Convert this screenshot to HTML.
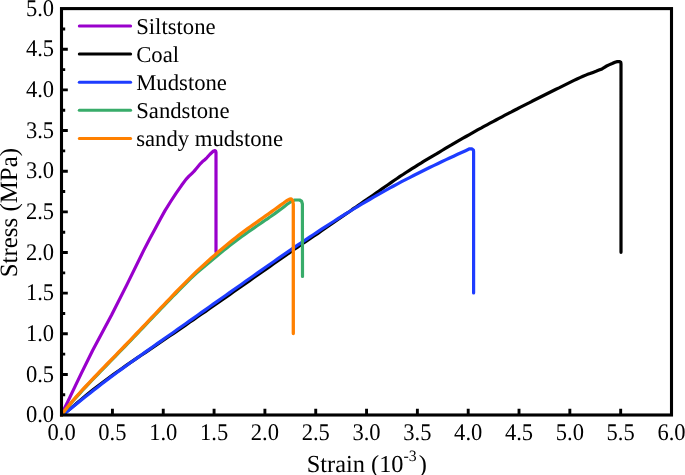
<!DOCTYPE html>
<html><head><meta charset="utf-8"><style>
html,body{margin:0;padding:0;background:#fff;width:685px;height:475px;overflow:hidden}
svg{display:block;will-change:transform;font-family:"Liberation Serif",serif;fill:#000}
text{text-rendering:geometricPrecision}
</style></head><body>
<svg width="685" height="475" viewBox="0 0 685 475">
<path d="M61.5 374.45H67.8 M61.5 333.80H67.8 M61.5 293.15H67.8 M61.5 252.50H67.8 M61.5 211.85H67.8 M61.5 171.20H67.8 M61.5 130.55H67.8 M61.5 89.90H67.8 M61.5 49.25H67.8 M61.5 394.78H65.2 M61.5 354.12H65.2 M61.5 313.48H65.2 M61.5 272.83H65.2 M61.5 232.18H65.2 M61.5 191.53H65.2 M61.5 150.88H65.2 M61.5 110.23H65.2 M61.5 69.58H65.2 M61.5 28.93H65.2 M112.43 415H112.43V408.8 M163.25 415H163.25V408.8 M214.08 415H214.08V408.8 M264.90 415H264.90V408.8 M315.73 415H315.73V408.8 M366.55 415H366.55V408.8 M417.38 415H417.38V408.8 M468.20 415H468.20V408.8 M519.02 415H519.02V408.8 M569.85 415H569.85V408.8 M620.68 415H620.68V408.8" stroke="#000" stroke-width="2.9" fill="none"/>
<path d="M61.6 415.1 L65.6 412.6 L69.6 409.3 L73.6 405.9 L77.6 402.5 L81.6 399.1 L85.6 395.8 L89.6 392.5 L93.6 389.3 L97.6 386.3 L101.6 383.2 L105.6 380.2 L109.6 377.3 L113.6 374.4 L117.6 371.5 L121.6 368.7 L125.6 365.9 L129.6 363.2 L133.6 360.4 L137.6 357.7 L141.6 355.0 L145.6 352.3 L149.6 349.6 L153.6 346.9 L157.6 344.1 L161.6 341.4 L165.6 338.7 L169.6 336.0 L173.6 333.3 L177.6 330.6 L181.6 327.9 L185.6 325.1 L189.6 322.3 L193.6 319.6 L197.6 316.8 L201.6 314.0 L205.6 311.3 L209.6 308.5 L213.6 305.7 L217.6 302.9 L221.6 300.2 L225.6 297.4 L229.6 294.6 L233.6 291.8 L237.6 289.0 L241.6 286.2 L245.6 283.4 L249.6 280.6 L253.6 277.7 L257.6 274.9 L261.6 272.2 L265.6 269.4 L269.6 266.6 L273.6 263.8 L277.6 261.0 L281.6 258.2 L285.6 255.4 L289.6 252.6 L293.6 249.8 L297.6 247.1 L301.6 244.3 L305.6 241.6 L309.6 238.9 L313.6 236.2 L317.6 233.6 L321.6 230.8 L325.6 228.0 L329.6 225.2 L333.6 222.4 L337.6 219.7 L341.6 216.9 L345.6 214.2 L349.6 211.5 L352.0 209.7 L355.0 207.7 L358.0 205.6 L361.0 203.5 L364.0 201.4 L367.0 199.4 L370.0 197.3 L373.0 195.2 L376.0 193.1 L379.0 191.0 L382.0 188.9 L385.0 186.8 L388.0 184.7 L391.0 182.6 L394.0 180.5 L397.0 178.5 L400.0 176.4 L403.0 174.5 L406.0 172.5 L409.0 170.6 L412.0 168.7 L415.0 166.8 L418.0 164.9 L421.0 163.1 L424.0 161.2 L427.0 159.4 L430.0 157.6 L433.0 155.8 L436.0 154.1 L439.0 152.3 L442.0 150.5 L445.0 148.7 L448.0 146.9 L451.0 145.2 L454.0 143.4 L457.0 141.6 L460.0 139.9 L463.0 138.2 L466.0 136.5 L469.0 134.8 L472.0 133.1 L475.0 131.4 L478.0 129.7 L481.0 128.1 L484.0 126.4 L487.0 124.8 L490.0 123.2 L493.0 121.6 L496.0 120.0 L499.0 118.4 L502.0 116.8 L505.0 115.2 L508.0 113.6 L511.0 112.1 L514.0 110.5 L517.0 109.0 L520.0 107.4 L523.0 105.9 L526.0 104.4 L529.0 102.9 L532.0 101.3 L535.0 99.8 L538.0 98.3 L541.0 96.8 L544.0 95.3 L547.0 93.8 L550.0 92.3 L553.0 90.8 L556.0 89.3 L559.0 87.9 L562.0 86.4 L565.0 84.9 L568.0 83.4 L571.0 81.9 L574.0 80.4 L577.0 79.0 L580.0 77.6 L583.0 76.3 L587.0 74.6 L590.0 73.6 L593.0 72.4 L596.0 71.3 L599.0 70.1 L602.0 68.9 L604.0 67.7 L606.1 66.3 L609.0 64.9 L612.2 63.5 L615.0 62.2 L617.3 61.6 L619.6 61.5 L620.8 62.4 L621.0 64.0 L621.0 252.3" stroke="#000000" stroke-width="3.2" fill="none" stroke-linejoin="round" stroke-linecap="round"/>
<path d="M61.6 415.1 L65.6 412.7 L69.6 409.6 L73.6 406.3 L77.6 403.0 L81.6 399.8 L85.6 396.6 L89.6 393.5 L93.6 390.3 L97.6 387.2 L101.6 384.1 L105.6 381.0 L109.6 377.9 L113.6 375.0 L117.6 372.0 L121.6 369.1 L125.6 366.2 L129.6 363.3 L133.6 360.5 L137.6 357.6 L141.6 354.8 L145.6 351.9 L149.6 349.1 L153.6 346.3 L157.6 343.4 L161.6 340.6 L165.6 337.8 L169.6 335.0 L173.6 332.2 L177.6 329.3 L181.6 326.5 L185.6 323.7 L189.6 320.9 L193.6 318.1 L197.6 315.3 L201.6 312.4 L205.6 309.6 L209.6 306.8 L213.6 303.9 L217.6 301.1 L221.6 298.3 L225.6 295.5 L229.6 292.6 L233.6 289.8 L237.6 287.0 L241.6 284.2 L245.6 281.3 L249.6 278.5 L253.6 275.7 L257.6 272.9 L261.6 270.1 L265.6 267.3 L269.6 264.5 L273.6 261.7 L277.6 258.9 L281.6 256.1 L285.6 253.4 L289.6 250.6 L293.6 247.9 L297.6 245.2 L301.6 242.5 L305.6 239.8 L309.6 237.1 L313.6 234.5 L317.6 231.8 L321.6 229.2 L325.6 226.6 L329.6 224.0 L333.6 221.5 L337.6 218.9 L341.6 216.4 L345.6 213.9 L349.6 211.5 L353.6 209.0 L357.6 206.6 L361.6 204.2 L365.6 201.8 L369.6 199.5 L373.6 197.2 L377.6 194.9 L381.6 192.6 L385.6 190.4 L389.6 188.2 L393.6 186.0 L397.6 183.9 L401.6 181.7 L405.6 179.6 L409.6 177.6 L413.6 175.5 L417.6 173.5 L421.6 171.5 L425.6 169.5 L429.6 167.5 L433.6 165.6 L437.6 163.7 L441.6 161.8 L445.6 159.9 L449.6 158.0 L453.6 156.2 L457.6 154.3 L461.6 152.5 L465.6 150.7 L469.6 148.8 L471.8 148.9 L473.4 150.0 L473.6 151.5 L473.6 293.0" stroke="#1E3CFF" stroke-width="3.2" fill="none" stroke-linejoin="round" stroke-linecap="round"/>
<path d="M61.6 415.1 L63.8 409.6 L67.5 402.2 L72.2 392.4 L81.3 373.4 L92.6 350.5 L111.7 314.8 L126.8 284.9 L143.7 250.4 L150.0 238.2 L155.7 227.8 L160.5 218.7 L165.0 210.6 L171.0 201.0 L176.0 193.3 L181.6 185.3 L186.0 179.4 L189.0 176.2 L192.0 173.3 L194.2 171.1 L196.6 168.3 L200.5 163.6 L202.5 161.6 L204.5 160.0 L206.8 157.8 L210.0 154.2 L213.2 151.3 L214.6 150.6 L215.6 151.0 L216.0 152.5 L216.0 251.8" stroke="#9900CC" stroke-width="3.2" fill="none" stroke-linejoin="round" stroke-linecap="round"/>
<path d="M61.8 415.1 L64.8 410.7 L67.8 407.0 L70.8 403.5 L73.8 400.0 L76.8 396.6 L79.8 393.3 L82.8 390.0 L85.8 386.8 L88.8 383.6 L91.8 380.5 L94.8 377.4 L97.8 374.3 L100.8 371.2 L103.8 368.1 L106.8 365.1 L109.8 362.0 L112.8 358.9 L115.8 355.8 L118.8 352.7 L121.8 349.7 L124.8 346.6 L127.8 343.5 L130.8 340.3 L133.8 337.2 L136.8 334.1 L139.8 331.0 L142.8 327.8 L145.8 324.7 L148.8 321.5 L151.8 318.4 L154.8 315.2 L157.8 312.1 L160.8 309.0 L163.8 305.9 L166.8 302.7 L169.8 299.6 L172.8 296.5 L175.8 293.5 L178.8 290.4 L181.8 287.4 L184.8 284.3 L187.8 281.3 L190.8 278.4 L193.8 275.6 L196.8 272.9 L199.8 270.3 L202.8 267.7 L205.8 265.2 L208.8 262.7 L211.8 260.2 L214.8 257.7 L217.8 255.2 L220.8 252.7 L223.8 250.3 L226.8 247.9 L229.8 245.5 L232.8 243.2 L235.8 240.9 L238.8 238.7 L241.8 236.5 L244.8 234.4 L247.8 232.2 L250.8 230.2 L253.8 228.1 L256.8 226.0 L259.8 224.0 L262.8 221.9 L265.8 219.8 L268.8 217.8 L271.8 215.7 L274.8 213.6 L277.8 211.4 L280.8 209.2 L283.8 206.9 L286.8 204.5 L292.0 201.0 L294.8 200.0 L299.5 200.0 L301.6 201.2 L302.4 204.0 L302.5 276.5" stroke="#38AC6A" stroke-width="3.2" fill="none" stroke-linejoin="round" stroke-linecap="round"/>
<path d="M61.6 415.1 L64.6 410.7 L67.6 407.0 L70.6 403.4 L73.6 399.8 L76.6 396.4 L79.6 393.0 L82.6 389.7 L85.6 386.5 L88.6 383.3 L91.6 380.1 L94.6 377.0 L97.6 373.8 L100.6 370.7 L103.6 367.6 L106.6 364.5 L109.6 361.5 L112.6 358.4 L115.6 355.3 L118.6 352.2 L121.6 349.1 L124.6 346.0 L127.6 342.9 L130.6 339.8 L133.6 336.7 L136.6 333.5 L139.6 330.4 L142.6 327.2 L145.6 324.1 L148.6 320.9 L151.6 317.7 L154.6 314.6 L157.6 311.4 L160.6 308.2 L163.6 305.1 L166.6 301.9 L169.6 298.8 L172.6 295.7 L175.6 292.5 L178.6 289.4 L181.6 286.4 L184.6 283.3 L187.6 280.3 L190.6 277.3 L193.6 274.3 L196.6 271.4 L199.6 268.6 L202.6 265.9 L205.6 263.2 L208.6 260.5 L211.6 257.8 L214.6 255.3 L217.6 252.6 L220.6 250.0 L223.6 247.5 L226.6 245.0 L229.6 242.5 L232.6 240.1 L235.6 237.7 L238.6 235.4 L241.6 233.1 L244.6 230.9 L247.6 228.7 L250.6 226.5 L253.6 224.4 L256.6 222.3 L259.6 220.2 L262.6 218.0 L265.6 215.9 L268.6 213.8 L271.6 211.6 L274.6 209.5 L277.6 207.3 L280.6 205.1 L283.6 203.0 L286.6 200.7 L289.5 199.2 L291.2 198.9 L292.6 200.5 L293.3 204.0 L293.3 333.5" stroke="#FF8000" stroke-width="3.3" fill="none" stroke-linejoin="round" stroke-linecap="round"/>
<rect x="61.5" y="8.6" width="610" height="406.4" fill="none" stroke="#000" stroke-width="3.1"/>
<text transform="translate(54.1 422.20) scale(0.98 1.04)" text-anchor="end" font-size="23">0.0</text>
<text transform="translate(54.1 381.55) scale(0.98 1.04)" text-anchor="end" font-size="23">0.5</text>
<text transform="translate(54.1 340.90) scale(0.98 1.04)" text-anchor="end" font-size="23">1.0</text>
<text transform="translate(54.1 300.25) scale(0.98 1.04)" text-anchor="end" font-size="23">1.5</text>
<text transform="translate(54.1 259.60) scale(0.98 1.04)" text-anchor="end" font-size="23">2.0</text>
<text transform="translate(54.1 218.95) scale(0.98 1.04)" text-anchor="end" font-size="23">2.5</text>
<text transform="translate(54.1 178.30) scale(0.98 1.04)" text-anchor="end" font-size="23">3.0</text>
<text transform="translate(54.1 137.65) scale(0.98 1.04)" text-anchor="end" font-size="23">3.5</text>
<text transform="translate(54.1 97.00) scale(0.98 1.04)" text-anchor="end" font-size="23">4.0</text>
<text transform="translate(54.1 56.35) scale(0.98 1.04)" text-anchor="end" font-size="23">4.5</text>
<text transform="translate(54.1 15.70) scale(0.98 1.04)" text-anchor="end" font-size="23">5.0</text>
<text transform="translate(61.60 439.8) scale(0.98 1.04)" text-anchor="middle" font-size="23">0.0</text>
<text transform="translate(112.43 439.8) scale(0.98 1.04)" text-anchor="middle" font-size="23">0.5</text>
<text transform="translate(163.25 439.8) scale(0.98 1.04)" text-anchor="middle" font-size="23">1.0</text>
<text transform="translate(214.08 439.8) scale(0.98 1.04)" text-anchor="middle" font-size="23">1.5</text>
<text transform="translate(264.90 439.8) scale(0.98 1.04)" text-anchor="middle" font-size="23">2.0</text>
<text transform="translate(315.73 439.8) scale(0.98 1.04)" text-anchor="middle" font-size="23">2.5</text>
<text transform="translate(366.55 439.8) scale(0.98 1.04)" text-anchor="middle" font-size="23">3.0</text>
<text transform="translate(417.38 439.8) scale(0.98 1.04)" text-anchor="middle" font-size="23">3.5</text>
<text transform="translate(468.20 439.8) scale(0.98 1.04)" text-anchor="middle" font-size="23">4.0</text>
<text transform="translate(519.02 439.8) scale(0.98 1.04)" text-anchor="middle" font-size="23">4.5</text>
<text transform="translate(569.85 439.8) scale(0.98 1.04)" text-anchor="middle" font-size="23">5.0</text>
<text transform="translate(620.68 439.8) scale(0.98 1.04)" text-anchor="middle" font-size="23">5.5</text>
<text transform="translate(671.50 439.8) scale(0.98 1.04)" text-anchor="middle" font-size="23">6.0</text>
<path d="M79.3 26.00H130.6" stroke="#9900CC" stroke-width="3" stroke-linecap="round"/>
<text x="136.2" y="33.70" font-size="22.7">Siltstone</text>
<path d="M79.3 54.10H130.6" stroke="#000" stroke-width="3" stroke-linecap="round"/>
<text x="136.2" y="61.80" font-size="22.7">Coal</text>
<path d="M79.3 82.20H130.6" stroke="#1E3CFF" stroke-width="3" stroke-linecap="round"/>
<text x="136.2" y="89.90" font-size="22.7">Mudstone</text>
<path d="M79.3 110.30H130.6" stroke="#38AC6A" stroke-width="3" stroke-linecap="round"/>
<text x="136.2" y="118.00" font-size="22.7">Sandstone</text>
<path d="M79.3 138.40H130.6" stroke="#FF8000" stroke-width="3" stroke-linecap="round"/>
<text x="136.2" y="146.10" font-size="22.7">sandy mudstone</text>
<text x="306.7" y="471.5" font-size="24.4">Strain (10<tspan font-size="15.8" dy="-10.2">-3</tspan><tspan dx="2.1" dy="10.2">)</tspan></text>
<text transform="translate(17.4 277.3) rotate(-90)" font-size="24.9">Stress (MPa)</text>
</svg>
</body></html>
